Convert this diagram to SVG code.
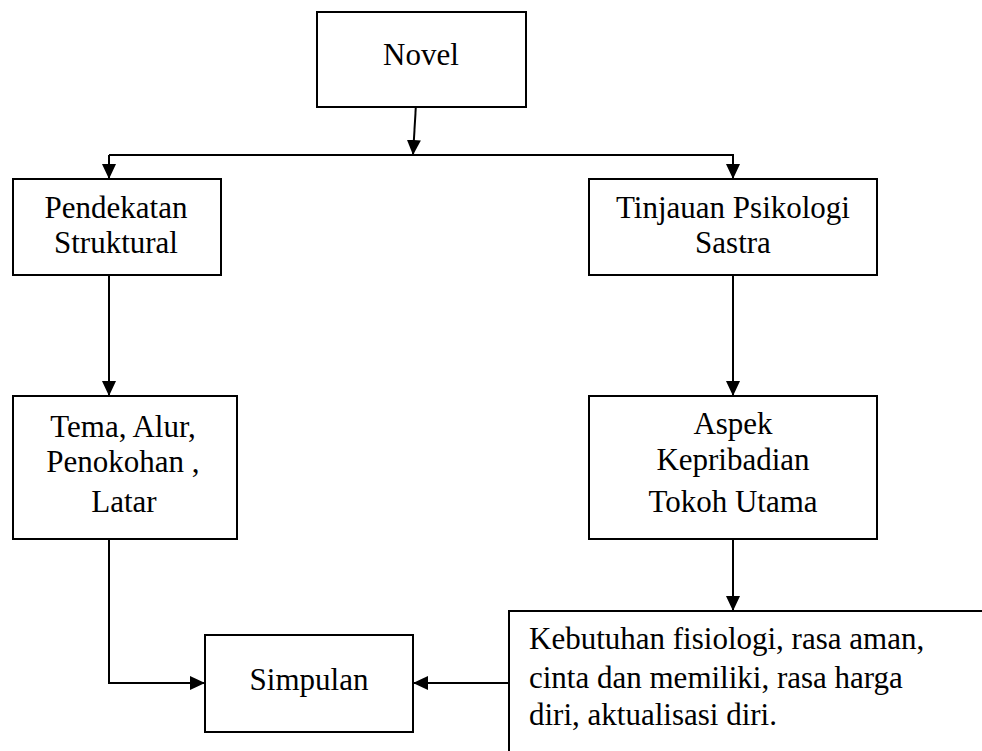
<svg xmlns="http://www.w3.org/2000/svg" width="982" height="751" viewBox="0 0 982 751">
<style>
.box{fill:#fff;stroke:#000;stroke-width:2}
.t{font-family:"Liberation Serif","Times New Roman",serif;font-size:31px;fill:#000}
.c{text-anchor:middle}
.ln{fill:none;stroke:#000;stroke-width:2}
</style>
<defs>
<marker id="ah" markerUnits="userSpaceOnUse" markerWidth="15" markerHeight="14" refX="15" refY="7" orient="auto">
<path d="M0,0 L15,7 L0,14 Z" fill="#000"/>
</marker>
</defs>
<rect width="982" height="751" fill="#fff"/>
<g id="connectors">
<line class="ln" x1="416" y1="104" x2="413" y2="155" marker-end="url(#ah)"/>
<line class="ln" x1="109" y1="155" x2="734" y2="155"/>
<line class="ln" x1="109" y1="155" x2="109" y2="179" marker-end="url(#ah)"/>
<line class="ln" x1="733" y1="155" x2="733" y2="179" marker-end="url(#ah)"/>
<line class="ln" x1="109" y1="275" x2="109" y2="396" marker-end="url(#ah)"/>
<line class="ln" x1="733" y1="275" x2="733" y2="396" marker-end="url(#ah)"/>
<line class="ln" x1="733" y1="539" x2="733" y2="611" marker-end="url(#ah)"/>
<polyline class="ln" points="109,539 109,683 205,683" marker-end="url(#ah)"/>
<line class="ln" x1="509" y1="683" x2="413" y2="683" marker-end="url(#ah)"/>
</g>
<g id="novel">
<rect class="box" x="317" y="12" width="209" height="95"/>
<text class="t c" x="421" y="65">Novel</text>
</g>
<g id="pendekatan">
<rect class="box" x="13" y="179" width="208" height="96"/>
<text class="t c" x="116" y="218">Pendekatan</text>
<text class="t c" x="116" y="253">Struktural</text>
</g>
<g id="tinjauan">
<rect class="box" x="589" y="179" width="288" height="96"/>
<text class="t c" x="733" y="218">Tinjauan Psikologi</text>
<text class="t c" x="733" y="253">Sastra</text>
</g>
<g id="tema">
<rect class="box" x="13" y="396" width="224" height="143"/>
<text class="t c" x="123" y="437">Tema, Alur,</text>
<text class="t c" x="123" y="472">Penokohan ,</text>
<text class="t c" x="124" y="512">Latar</text>
</g>
<g id="aspek">
<rect class="box" x="589" y="396" width="288" height="143"/>
<text class="t c" x="733" y="434">Aspek</text>
<text class="t c" x="733" y="470">Kepribadian</text>
<text class="t c" x="733" y="512">Tokoh Utama</text>
</g>
<g id="simpulan">
<rect class="box" x="205" y="635" width="208" height="97"/>
<text class="t c" x="309" y="690">Simpulan</text>
</g>
<g id="kebutuhan">
<rect class="box" x="509" y="611" width="500" height="200"/>
<text class="t" x="529" y="649">Kebutuhan fisiologi, rasa aman,</text>
<text class="t" x="529" y="688">cinta dan memiliki, rasa harga</text>
<text class="t" x="529" y="725">diri, aktualisasi diri.</text>
</g>
</svg>
